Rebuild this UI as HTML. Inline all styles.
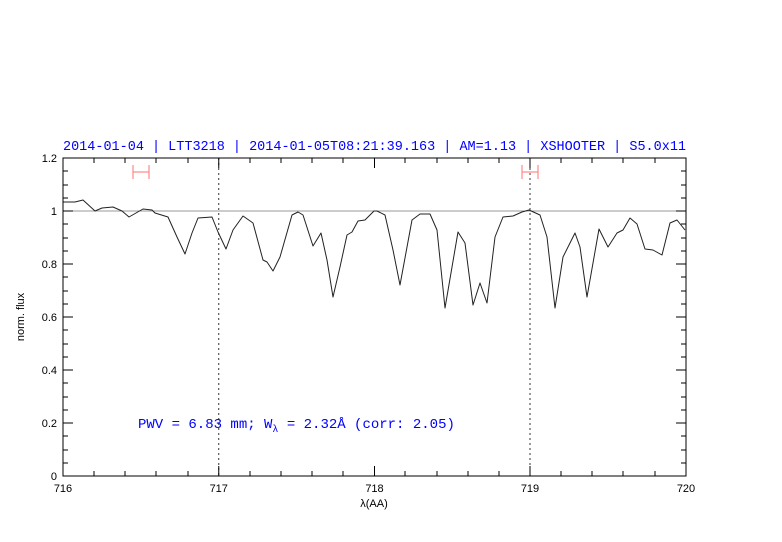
<!DOCTYPE html>
<html><head><style>body{margin:0;background:#fff}svg{display:block}</style></head><body>
<svg width="782" height="542" xmlns="http://www.w3.org/2000/svg" font-family="Liberation Mono, monospace">
<rect width="782" height="542" fill="#fff"/>
<text x="63" y="150" fill="#0000ff" font-size="14" textLength="623" lengthAdjust="spacingAndGlyphs">2014-01-04 | LTT3218 | 2014-01-05T08:21:39.163 | AM=1.13 | XSHOOTER | S5.0x11</text>
<line x1="63" y1="211" x2="686" y2="211" stroke="#999" stroke-width="1"/>
<line x1="218.75" y1="158" x2="218.75" y2="476" stroke="#333" stroke-dasharray="2,3" stroke-width="1"/>
<line x1="530" y1="158" x2="530" y2="476" stroke="#333" stroke-dasharray="2,3" stroke-width="1"/>
<g stroke="#f88" stroke-width="1.2"><line x1="133" y1="172" x2="149" y2="172"/><line x1="133" y1="165" x2="133" y2="179"/><line x1="149" y1="165" x2="149" y2="179"/>
<line x1="522" y1="172" x2="538" y2="172"/><line x1="522" y1="165" x2="522" y2="179"/><line x1="538" y1="165" x2="538" y2="179"/></g>
<polyline fill="none" stroke="#222" stroke-width="1" stroke-linejoin="round" points="63,202 75,202 83,200 95,211 102,208 113,207 122,211 129,217 143,209 152,210 155,213 168,217 177,237 185,254 192,233 198,218 212,217 218,232 226,249 233,230 243,216 253,223 263,260 267,262 273,271 280,257 292,215 298,212 303,215 313,246 321,233 327,260 333,297 340,267 347,235 352,232 358,221 365,220 374,211 377,211 385,215 393,250 400,285 412,220 420,214 430,214 437,230 445,308 458,232 465,243 473,305 480,283 487,303 495,237 503,217 513,216 522,212 529,210 540,215 547,237 555,308 563,257 575,233 580,247 587,297 599,229 608,247 617,233 623,230 630,218 637,224 645,249 653,250 662,255 670,223 677,220 685,230"/>
<rect x="63" y="158" width="623" height="318" fill="none" stroke="#000" stroke-width="1"/>
<g stroke="#000" stroke-width="1">
<path d="M63,476v-10M63,158v10M218.75,476v-10M218.75,158v10M374.5,476v-10M374.5,158v10M530,476v-10M530,158v10M686,476v-10M686,158v10"/>
<path d="M94,476v-5M125,476v-5M156,476v-5M188,476v-5M250,476v-5M281,476v-5M312,476v-5M343,476v-5M405,476v-5M437,476v-5M468,476v-5M499,476v-5M561,476v-5M592,476v-5M623,476v-5M655,476v-5"/>
<path d="M94,158v5M125,158v5M156,158v5M188,158v5M250,158v5M281,158v5M312,158v5M343,158v5M405,158v5M437,158v5M468,158v5M499,158v5M561,158v5M592,158v5M623,158v5M655,158v5"/>
<path d="M63,476h10M63,423h10M63,370h10M63,317h10M63,264h10M63,211h10M63,158h10M686,476h-10M686,423h-10M686,370h-10M686,317h-10M686,264h-10M686,211h-10M686,158h-10"/>
<path d="M63,463h5M63,450h5M63,436h5M63,410h5M63,397h5M63,383h5M63,357h5M63,344h5M63,330h5M63,304h5M63,291h5M63,277h5M63,251h5M63,238h5M63,224h5M63,198h5M63,185h5M63,171h5"/>
<path d="M686,463h-5M686,450h-5M686,436h-5M686,410h-5M686,397h-5M686,383h-5M686,357h-5M686,344h-5M686,330h-5M686,304h-5M686,291h-5M686,277h-5M686,251h-5M686,238h-5M686,224h-5M686,198h-5M686,185h-5M686,171h-5"/>
</g>
<g font-family="Liberation Sans, sans-serif" font-size="11" fill="#000" text-anchor="end">
<text x="57" y="480">0</text><text x="57" y="427">0.2</text><text x="57" y="374">0.4</text><text x="57" y="321">0.6</text><text x="57" y="268">0.8</text><text x="57" y="215">1</text><text x="57" y="162">1.2</text>
</g>
<g font-family="Liberation Sans, sans-serif" font-size="11" fill="#000" text-anchor="middle">
<text x="63" y="492">716</text><text x="218.75" y="492">717</text><text x="374.5" y="492">718</text><text x="530" y="492">719</text><text x="686" y="492">720</text>
<text x="374" y="507">λ(AA)</text>
<text transform="translate(24,317) rotate(-90)">norm. flux</text>
</g>
<text x="138" y="428" fill="#0000ff" font-size="14">PWV = 6.83 mm; W<tspan font-size="10" dy="4">λ</tspan><tspan dy="-4"> = 2.32Å (corr: 2.05)</tspan></text>
</svg>
</body></html>
